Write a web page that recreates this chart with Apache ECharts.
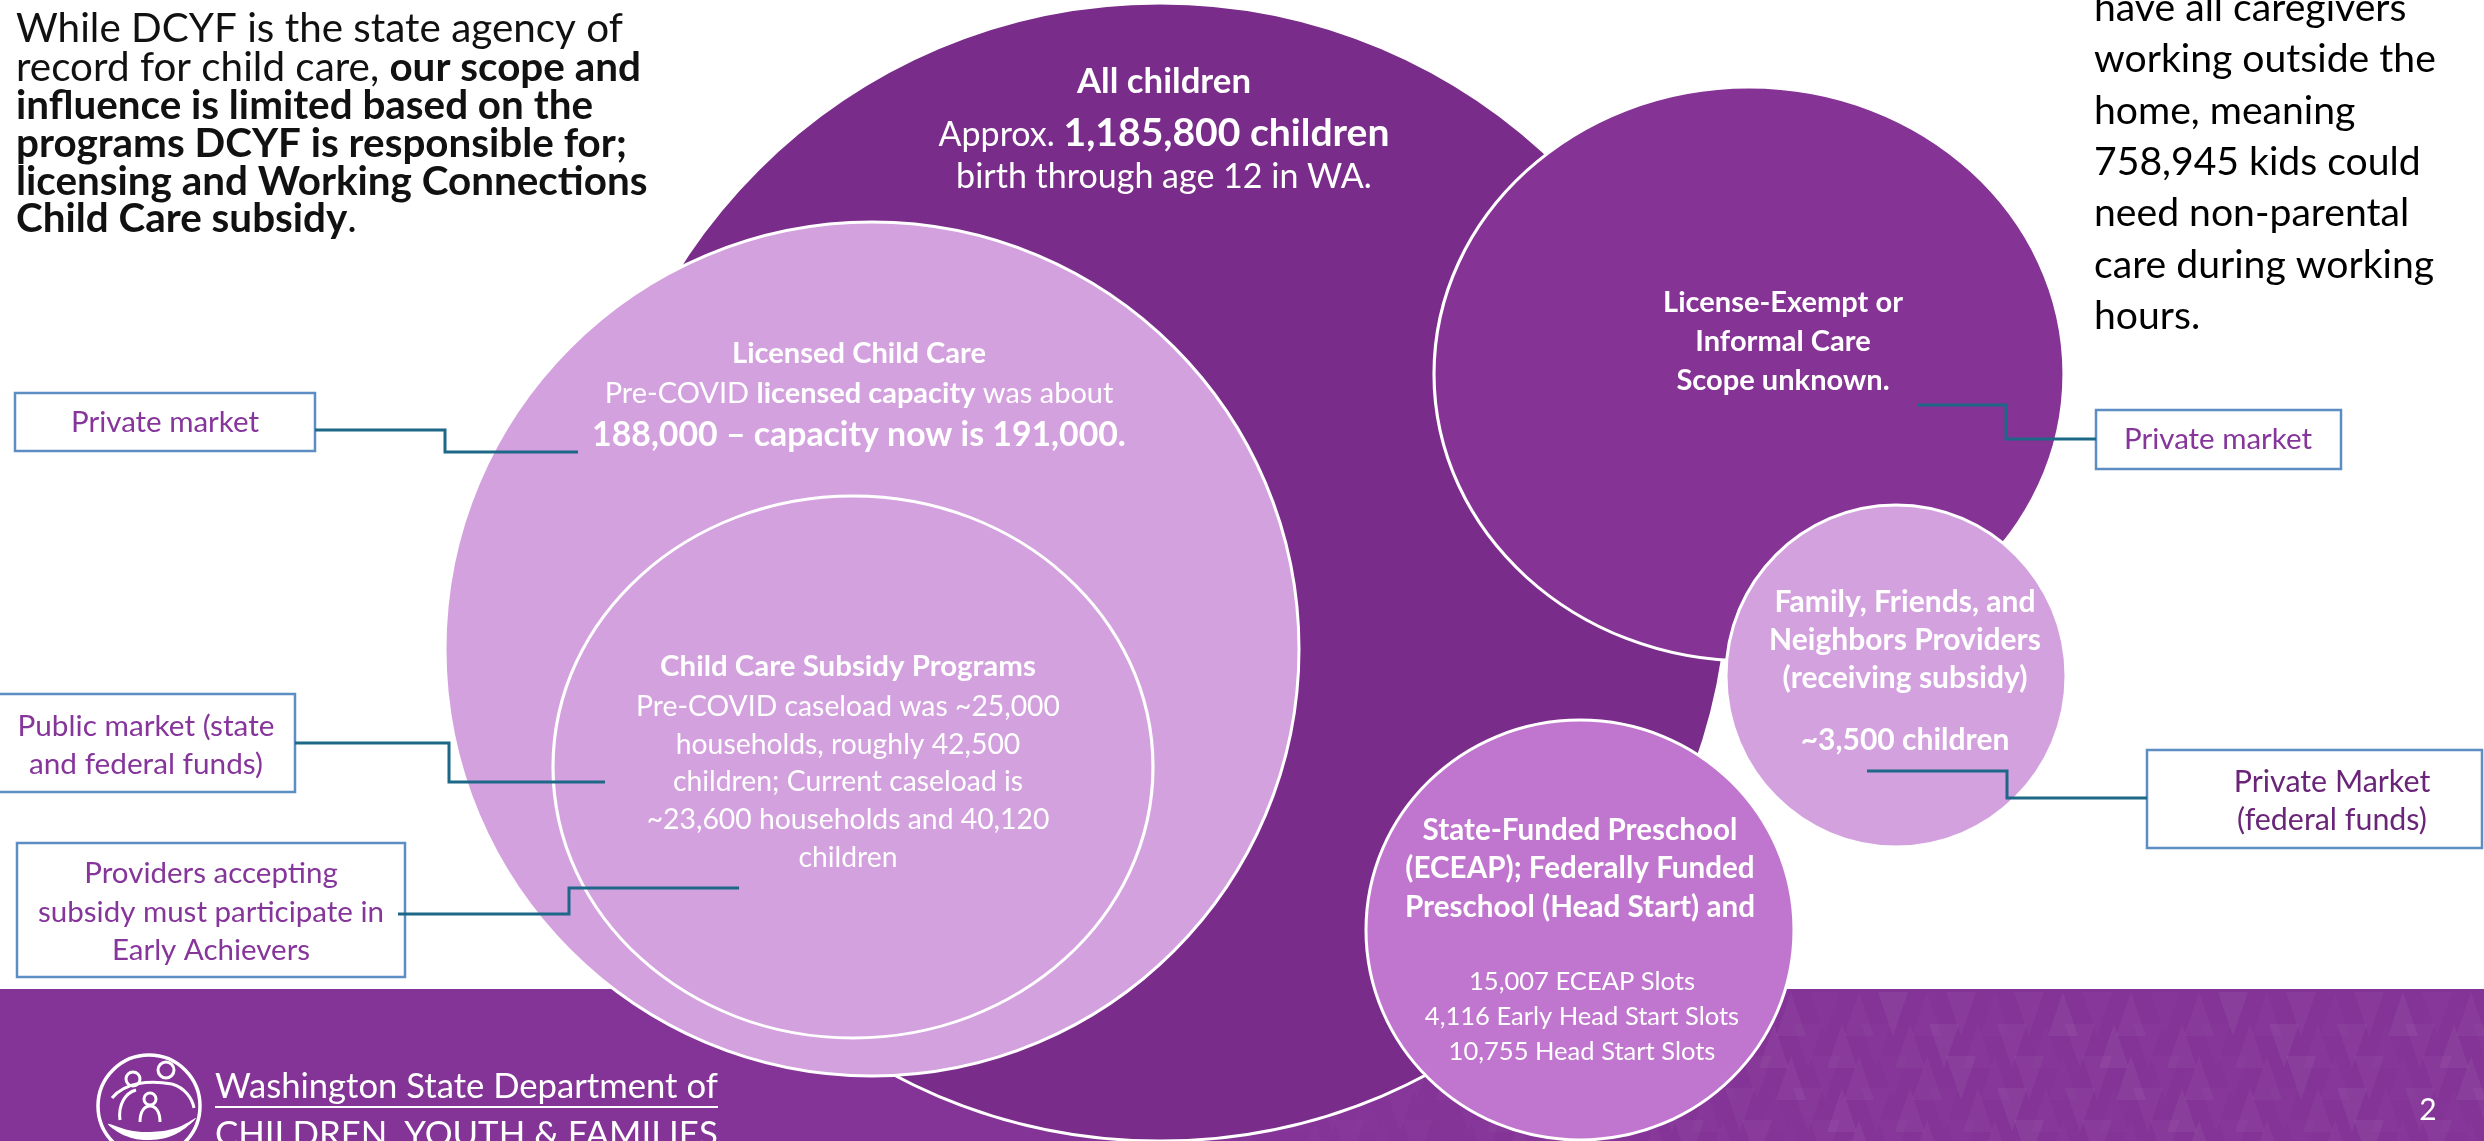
<!DOCTYPE html>
<html><head><meta charset="utf-8">
<script src="https://cdn.jsdelivr.net/npm/echarts@6/dist/echarts.min.js"></script>
<style>html,body{margin:0;padding:0;background:#fff;overflow:hidden}#c{width:2484px;height:1141px;}</style>
</head><body><div id="c"></div>
<script>
// ---------------- DATA ----------------
const bubbleNames = ['All children', 'Licensed Child Care', 'Child Care Subsidy Programs',
  'License-Exempt or Informal Care', 'Family, Friends, and Neighbors Providers', 'State-Funded Preschool / Head Start'];
const totalChildren = 1185800;
const licensedCapacity = [188000, 191000];          // pre-COVID, now
const subsidyHouseholds = [25000, 23600];           // pre-COVID, current
const subsidyChildren = [42500, 40120];             // pre-COVID, current
const ffnChildren = 3500;
const preschoolSlots = [15007, 4116, 10755];
const preschoolSlotLabels = ['ECEAP Slots', 'Early Head Start Slots', 'Head Start Slots'];
const kidsNeedingCare = 758945;
const calloutLabels = ['Private market', 'Public market (state\nand federal funds)',
  'Providers accepting\nsubsidy must participate in\nEarly Achievers', 'Private market', 'Private Market\n(federal funds)'];

// ---------------- LAYOUT (pixel space of hidden axes) ----------------
const W = 2484, H = 1141;
const bubbleCX = [1160, 872, 853, 1749, 1896, 1580];
const bubbleCY = [572, 649, 767, 374, 676, 930];
const bubbleRX = [569, 427, 300, 315, 170, 214];
const bubbleRY = [569, 427, 271, 287, 171, 210];
const bubbleFill = ['#792C89', '#D4A1DF', 'rgba(0,0,0,0)', '#853395', '#D4A1DF', '#C076CE'];

const FF = 'Lato, "Open Sans", "DejaVu Sans", sans-serif';
const cx2d = document.createElement('canvas').getContext('2d');
function mw(t, size, bold) { cx2d.font = (bold ? 'bold ' : 'normal ') + size + 'px ' + FF; return cx2d.measureText(t).width; }
function segW(segs, size) { return segs.reduce((a, s) => a + mw(s[0], s[2] || size, s[1]), 0); }
function fit(segs, target) { return 100 * target / segW(segs, 100); }
const fmt = n => n.toLocaleString('en-US');

function line(x, y, segs, size, fill, align) {
  const rich = {}; let text = '';
  segs.forEach((s, i) => {
    const k = 't' + i;
    rich[k] = { fontFamily: FF, fontSize: s[2] || size, fontWeight: s[1] ? 'bold' : 'normal', fill: fill, verticalAlign: 'bottom' };
    text += '{' + k + '|' + s[0] + '}';
  });
  return { type: 'text', z: 20, silent: true,
    style: { x: x, y: y, text: text, rich: rich, fill: fill, align: align || 'center', verticalAlign: 'middle', font: size + 'px ' + FF } };
}
function block(x, ys, lines, size, fill, align) {
  return lines.map((l, i) => line(x, ys[i], l, size, fill, align));
}
function bez(a) { return { type: 'bezierCurve', z: 1, silent: true, shape: { x1: a[0], y1: a[1], cpx1: a[2], cpy1: a[3], cpx2: a[4], cpy2: a[5], x2: a[6], y2: a[7] }, style: { fill: 'none', stroke: '#fff', lineWidth: 3 } }; }

const G = [];
// footer
G.push({ type: 'rect', z: 0, silent: true, shape: { x: 0, y: 989, width: W, height: H - 989 }, style: { fill: '#843397' } });
for (let r = 0; r < 5; r++) {
  for (let c = 0; c < 46; c++) {
    const x = 960 + c * 34 + (r % 2) * 17, y = 992 + r * 32;
    const up = (c + r) % 2 === 0;
    const ramp = Math.max(0, Math.min(1, (x - 900) / 1000));
    const a = (0.015 + 0.04 * (((c * 7 + r * 13) % 5) / 4)) * ramp;
    const pts = up ? [[x, y + 44], [x + 15, y], [x + 30, y + 44]] : [[x, y], [x + 30, y], [x + 15, y + 44]];
    G.push({ type: 'polygon', z: 1, silent: true, shape: { points: pts }, style: { fill: 'rgba(255,255,255,' + a.toFixed(3) + ')' } });
  }
}
// logo
G.push({ type: 'circle', z: 1, silent: true, shape: { cx: 149, cy: 1106, r: 51 }, style: { fill: 'none', stroke: '#fff', lineWidth: 3.5 } });
[[166, 1070, 8], [133, 1079, 7], [150, 1099, 6]].forEach(h => G.push({ type: 'circle', z: 1, silent: true, shape: { cx: h[0], cy: h[1], r: h[2] }, style: { fill: 'none', stroke: '#fff', lineWidth: 3 } }));
G.push(bez([112, 1098, 125, 1082, 150, 1080, 172, 1084]));
G.push(bez([172, 1084, 185, 1088, 192, 1098, 194, 1108]));
G.push(bez([120, 1120, 118, 1105, 125, 1093, 136, 1090]));
G.push(bez([140, 1122, 140, 1112, 144, 1106, 150, 1106]));
G.push(bez([150, 1106, 156, 1106, 160, 1112, 160, 1122]));
G.push({ type: 'polygon', z: 1, silent: true, shape: { smooth: 0.4, points: [[108, 1124], [126, 1136], [150, 1140], [176, 1134], [196, 1118], [176, 1128], [150, 1132], [128, 1130]] }, style: { fill: '#fff' } });
const logoS = fit([['Washington State Department of', false]], 503);
G.push(line(215, 1087, [['Washington State Department of', false]], logoS, '#fff', 'left'));
G.push({ type: 'line', z: 20, silent: true, shape: { x1: 215, y1: 1107, x2: 718, y2: 1107 }, style: { stroke: '#fff', lineWidth: 2 } });
const logoS2 = fit([['CHILDREN, YOUTH & FAMILIES', false]], 503);
G.push(line(215, 1122 + 0.37 * logoS2, [['CHILDREN, YOUTH & FAMILIES', false]], logoS2, '#fff', 'left'));
G.push(line(2428, 1110, [['2', false]], 30, '#fff', 'center'));

// left paragraph
const lpS = fit([['While DCYF is the state agency of', false]], 607);
G.push(...block(16, [29, 68, 106, 144, 182, 219], [
  [['While DCYF is the state agency of', false]],
  [['record for child care, ', false], ['our scope and', true]],
  [['influence is limited based on the', true]],
  [['programs DCYF is responsible for;', true]],
  [['licensing and Working Connections', true]],
  [['Child Care subsidy', true], ['.', false]]
], lpS, '#111', 'left'));
// right paragraph
const rpS = fit([['working outside the', false]], 342);
G.push(...block(2094, [8, 59.5, 111, 162, 213.5, 265, 316],
  ['have all caregivers', 'working outside the', 'home, meaning', fmt(kidsNeedingCare) + ' kids could',
   'need non-parental', 'care during working', 'hours.'].map(t => [[t, false]]), rpS, '#000', 'left'));

// All children
const acS1 = fit([['birth through age 12 in WA.', false]], 416);
const acT = fit([['All children', true]], 174);
const acBig = (451 - mw('Approx. ', acS1, false)) / mw(fmt(totalChildren) + ' children', 1, true);
G.push(line(1164, 82, [[bubbleNames[0], true]], acT, '#fff'));
G.push(line(1164, 133, [['Approx. ', false], [fmt(totalChildren) + ' children', true, acBig]], acS1, '#fff'));
G.push(line(1164, 177, [['birth through age 12 in WA.', false]], acS1, '#fff'));
// Licensed
const lcT = fit([[bubbleNames[1], true]], 254);
const lcS = fit([['Pre-COVID ', false], ['licensed capacity', true], [' was about', false]], 509);
const lcB = fit([[fmt(licensedCapacity[0]) + ' – capacity now is ' + fmt(licensedCapacity[1]) + '.', true]], 534);
G.push(line(859, 354, [[bubbleNames[1], true]], lcT, '#fff'));
G.push(line(859, 394, [['Pre-COVID ', false], ['licensed capacity', true], [' was about', false]], lcS, '#fff'));
G.push(line(859, 435, [[fmt(licensedCapacity[0]) + ' – capacity now is ' + fmt(licensedCapacity[1]) + '.', true]], lcB, '#fff'));
// Subsidy
const sbT = fit([[bubbleNames[2], true]], 376);
const sbS = fit([['Pre-COVID caseload was ~' + fmt(subsidyHouseholds[0]), false]], 424);
G.push(line(848, 667, [[bubbleNames[2], true]], sbT, '#fff'));
G.push(...block(848, [707, 745, 782, 820, 858], [
  'Pre-COVID caseload was ~' + fmt(subsidyHouseholds[0]),
  'households, roughly ' + fmt(subsidyChildren[0]),
  'children; Current caseload is',
  '~' + fmt(subsidyHouseholds[1]) + ' households and ' + fmt(subsidyChildren[1]),
  'children'].map(t => [[t, false]]), sbS, '#fff'));
// License-exempt
const leS = fit([['License-Exempt or', true]], 240);
G.push(...block(1783, [303, 342, 381], ['License-Exempt or', 'Informal Care', 'Scope unknown.'].map(t => [[t, true]]), leS, '#fff'));
// FFN
const ffS = fit([['Family, Friends, and', true]], 261);
G.push(...block(1905, [602, 640, 678, 740], ['Family, Friends, and', 'Neighbors Providers', '(receiving subsidy)', '~' + fmt(ffnChildren) + ' children'].map(t => [[t, true]]), ffS, '#fff'));
// ECEAP
const ecT = fit([['State-Funded Preschool', true]], 315);
const ecS = fit([[fmt(preschoolSlots[0]) + ' ' + preschoolSlotLabels[0], false]], 226);
G.push(...block(1580, [830, 868, 907], ['State-Funded Preschool', '(ECEAP); Federally Funded', 'Preschool (Head Start) and'].map(t => [[t, true]]), ecT, '#fff'));
G.push(...block(1582, [982, 1017, 1052], preschoolSlots.map((v, i) => [[fmt(v) + ' ' + preschoolSlotLabels[i], false]]), ecS, '#fff'));

// callout boxes + connectors
const boxRects = [[15, 393, 300, 58], [-3, 694, 298, 98], [17, 843, 388, 134], [2096, 410, 245, 59], [2147, 750, 335, 98]];
const boxTextPos = [[165, [422]], [146, [726, 764]], [211, [873, 912, 950]], [2218, [439]], [2332, [782, 820]]];
const boxTextW = [[0, 188], [0, 257], [1, 346], [0, 188], [1, 190]];
const boxTextColor = ['#86359B', '#86359B', '#86359B', '#86359B', '#6A2478'];
const connectors = [
  [[315, 430], [445, 430], [445, 452], [578, 452]],
  [[295, 743], [449, 743], [449, 782], [605, 782]],
  [[398, 914], [569, 914], [569, 888], [739, 888]],
  [[1917, 405], [2006, 405], [2006, 439], [2096, 439]],
  [[1867, 771], [2007, 771], [2007, 798], [2147, 798]]];
boxRects.forEach((b, i) => {
  G.push({ type: 'rect', z: 9, silent: true, shape: { x: b[0], y: b[1], width: b[2], height: b[3] }, style: { fill: '#fff', stroke: '#5C8DC3', lineWidth: 2.5 } });
  const lines = calloutLabels[i].split('\n');
  const s = fit([[lines[boxTextW[i][0]], false]], boxTextW[i][1]);
  G.push(...block(boxTextPos[i][0], boxTextPos[i][1], lines.map(t => [[t, false]]), s, boxTextColor[i]));
});
connectors.forEach(p => G.push({ type: 'polyline', z: 10, silent: true, shape: { points: p }, style: { fill: 'none', stroke: '#1D6787', lineWidth: 3 } }));

const ellipsePath = 'path://M50,0 C77.6,0 100,22.4 100,50 C100,77.6 77.6,100 50,100 C22.4,100 0,77.6 0,50 C0,22.4 22.4,0 50,0 Z';

const chart = echarts.init(document.getElementById('c'), null, { renderer: 'canvas', width: W, height: H });
chart.setOption({
  animation: false,
  backgroundColor: '#fff',
  grid: { left: 0, right: 0, top: 0, bottom: 0 },
  xAxis: { type: 'value', min: 0, max: W, show: false },
  yAxis: { type: 'value', min: 0, max: H, inverse: true, show: false },
  series: [{
    type: 'scatter', z: 2, silent: true, clip: false,
    symbol: ellipsePath, symbolKeepAspect: false,
    emphasis: { disabled: true },
    data: bubbleNames.map((n, i) => ({
      name: n, value: [bubbleCX[i], bubbleCY[i]],
      symbolSize: [bubbleRX[i] * 2, bubbleRY[i] * 2],
      itemStyle: { color: bubbleFill[i], borderColor: '#fff', borderWidth: 3, opacity: 1 }
    }))
  }],
  graphic: { elements: G }
});
</script></body></html>
